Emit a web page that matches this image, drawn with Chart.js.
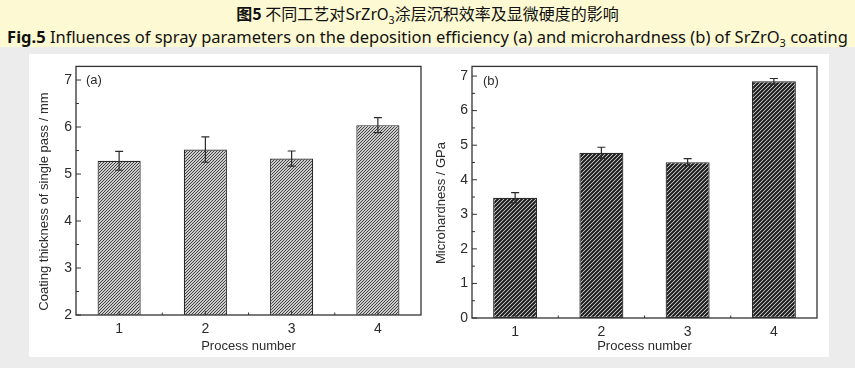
<!DOCTYPE html>
<html>
<head>
<meta charset="utf-8">
<script src="https://cdn.jsdelivr.net/npm/chart.js@4/dist/chart.umd.min.js"></script>
<style>
  html, body { margin: 0; padding: 0; }
  body { width: 855px; height: 368px; background: #ececec; position: relative; overflow: hidden; font-family: "Noto Sans", "Noto Sans CJK SC", sans-serif; }
  #header { position: absolute; left: 0; top: 0; width: 855px; height: 47px; background: #fdfad3; }
  #line1 { position: absolute; left: 0; width: 855px; top: 2px; text-align: center; font-size: 16px; line-height: 22px; color: #111; font-family: "Noto Sans CJK SC", sans-serif; }
  #line2 { position: absolute; left: 0; width: 855px; top: 25px; text-align: center; font-size: 16.5px; line-height: 23px; color: #111; font-family: "Noto Sans", "Noto Sans CJK SC", sans-serif; white-space: nowrap; }
  #panel { position: absolute; left: 29px; top: 54px; width: 800px; height: 303px; background: #ffffff; }
  #ca { position: absolute; left: 29px; top: 54px; }
  #cb { position: absolute; left: 427px; top: 54px; }
  sub { font-size: 11px; }
</style>
</head>
<body>
<div id="header">
  <div id="line1"><b>图5</b> 不同工艺对SrZrO<sub>3</sub>涂层沉积效率及显微硬度的影响</div>
  <div id="line2"><b>Fig.5</b> Influences of spray parameters on the deposition efficiency (a) and microhardness (b) of SrZrO<sub>3</sub> coating</div>
</div>
<div id="panel"></div>
<canvas id="ca" width="398" height="303"></canvas>
<canvas id="cb" width="402" height="303"></canvas>
<script>
// ---- data ----
const categories = ['1', '2', '3', '4'];
const thicknessValues = [5.28, 5.52, 5.33, 6.04];
const thicknessErrors = [0.20, 0.27, 0.16, 0.16];
const hardnessValues = [3.48, 4.78, 4.51, 6.85];
const hardnessErrors = [0.15, 0.16, 0.10, 0.08];
const thicknessTicks = [2, 3, 4, 5, 6, 7];
const hardnessTicks = [0, 1, 2, 3, 4, 5, 6, 7];
const thicknessTitle = 'Coating thickness of single pass / mm';
const hardnessTitle = 'Microhardness / GPa';
const xTitle = 'Process number';

function makePattern(bg, fg, size, lw) {
  const c = document.createElement('canvas');
  c.width = size; c.height = size;
  const x = c.getContext('2d');
  x.fillStyle = bg; x.fillRect(0, 0, size, size);
  x.strokeStyle = fg; x.lineWidth = lw;
  x.beginPath();
  x.moveTo(0, size); x.lineTo(size, 0);
  x.moveTo(-size, size); x.lineTo(size, -size);
  x.moveTo(0, 2 * size); x.lineTo(2 * size, 0);
  x.stroke();
  return document.createElement('canvas').getContext('2d').createPattern(c, 'repeat');
}

const axisColor = '#333333';
const textColor = '#2b2b2b';
const fontFam = '"Liberation Sans", Arial, sans-serif';

const decorPlugin = {
  id: 'decor',
  afterDatasetsDraw(chart, args, opts) {
    const ctx = chart.ctx;
    const area = chart.chartArea;
    const ys = chart.scales.y, xs = chart.scales.x;
    const meta = chart.getDatasetMeta(0);
    const errs = opts.errors;
    const vals = chart.data.datasets[0].data;
    ctx.save();
    // error bars
    ctx.strokeStyle = '#2a2a2a';
    ctx.lineWidth = 1.2;
    meta.data.forEach((bar, i) => {
      const x = bar.x;
      const yt = ys.getPixelForValue(vals[i] + errs[i]);
      const yb = ys.getPixelForValue(vals[i] - errs[i]);
      ctx.beginPath();
      ctx.moveTo(x, yt); ctx.lineTo(x, yb);
      ctx.moveTo(x - 4, yt); ctx.lineTo(x + 4, yt);
      ctx.moveTo(x - 4, yb); ctx.lineTo(x + 4, yb);
      ctx.stroke();
    });
    // frame
    ctx.strokeStyle = axisColor;
    ctx.lineWidth = 1.3;
    ctx.strokeRect(area.left, area.top, area.right - area.left, area.bottom - area.top);
    // inward ticks on y
    ctx.lineWidth = 1;
    const yt = opts.yTicks;
    for (let k = 0; k < yt.length; k++) {
      const py = ys.getPixelForValue(yt[k]);
      ctx.beginPath(); ctx.moveTo(area.left, py); ctx.lineTo(area.left + 5, py); ctx.stroke();
      if (k < yt.length - 1) {
        const pm = ys.getPixelForValue((yt[k] + yt[k + 1]) / 2);
        ctx.beginPath(); ctx.moveTo(area.left, pm); ctx.lineTo(area.left + 3, pm); ctx.stroke();
      }
    }
    // inward ticks on x
    for (let i = 0; i < categories.length; i++) {
      const px = xs.getPixelForValue(i);
      ctx.beginPath(); ctx.moveTo(px, area.bottom); ctx.lineTo(px, area.bottom - 4); ctx.stroke();
      if (i < categories.length - 1) {
        const pm = (xs.getPixelForValue(i) + xs.getPixelForValue(i + 1)) / 2;
        ctx.beginPath(); ctx.moveTo(pm, area.bottom); ctx.lineTo(pm, area.bottom - 2.5); ctx.stroke();
      }
    }
    // panel label
    ctx.fillStyle = textColor;
    ctx.font = '13px ' + fontFam;
    ctx.textBaseline = 'middle';
    ctx.textAlign = 'left';
    ctx.fillText(opts.label, area.left + opts.labelDx, area.top + opts.labelDy);
    ctx.restore();
  }
};

function build(canvasId, values, errors, ticks, yMin, yMax, pattern, yTitle, cfg) {
  return new Chart(document.getElementById(canvasId), {
    type: 'bar',
    data: {
      labels: categories,
      datasets: [{
        data: values,
        backgroundColor: pattern,
        borderColor: '#2a2a2a',
        borderWidth: 1.2,
        borderSkipped: false,
        barPercentage: cfg.barPct,
        categoryPercentage: 1.0
      }]
    },
    options: {
      responsive: false,
      animation: false,
      devicePixelRatio: 1,
      layout: { padding: { top: cfg.padTop, right: cfg.padRight, left: 0, bottom: 0 } },
      plugins: {
        legend: { display: false },
        tooltip: { enabled: false },
        decor: { errors: errors, yTicks: ticks, label: cfg.label, labelDx: cfg.labelDx, labelDy: cfg.labelDy }
      },
      scales: {
        x: {
          grid: { display: false, drawTicks: false },
          border: { display: false },
          ticks: { color: textColor, font: { size: 14, family: fontFam }, padding: cfg.xTickPad, maxRotation: 0 },
          title: { display: true, text: xTitle, color: textColor, font: { size: 13, family: fontFam }, padding: { top: 0, bottom: cfg.xTitlePad } },
          afterFit(scale) { scale.height = cfg.xHeight; }
        },
        y: {
          min: yMin, max: yMax,
          grid: { display: false, drawTicks: false },
          border: { display: false },
          afterBuildTicks(scale) { scale.ticks = ticks.map(v => ({ value: v })); },
          ticks: { color: textColor, font: { size: 14, family: fontFam }, padding: 4 },
          title: { display: true, text: yTitle + '      ', color: textColor, font: { size: 13, family: fontFam }, padding: { top: cfg.yTitlePad, bottom: 0 } },
          afterFit(scale) { scale.width = cfg.yWidth; }
        }
      }
    },
    plugins: [decorPlugin]
  });
}

const patA = makePattern('#cbcbcb', '#444444', 3, 1);
const patB = makePattern('#eeeeee', '#1c1c1c', 4, 2.1);

build('ca', thicknessValues, thicknessErrors, thicknessTicks, 2, 7.29, patA, thicknessTitle,
  { barPct: 0.5, padTop: 6, padRight: 6, xHeight: 42, yWidth: 47, xTickPad: 6, xTitlePad: 3, yTitlePad: 8, label: '(a)', labelDx: 10, labelDy: 14 });
build('cb', hardnessValues, hardnessErrors, hardnessTicks, 0, 7.28, patB, hardnessTitle,
  { barPct: 0.51, padTop: 7, padRight: 12, xHeight: 39, yWidth: 45, xTickPad: 6, xTitlePad: 3, yTitlePad: 7, label: '(b)', labelDx: 11, labelDy: 15 });
</script>
</body>
</html>
